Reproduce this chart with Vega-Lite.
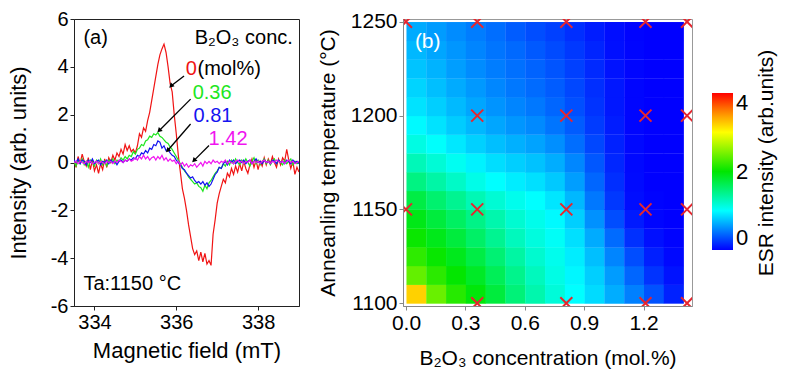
{
"$schema":"https://vega.github.io/schema/vega-lite/v6.json",
"padding":{"left":6,"top":8,"right":2,"bottom":0},
"background":"white",
"config":{"font":"Liberation Sans","axis":{"grid":false,"labelFont":"Liberation Sans","titleFont":"Liberation Sans","labelColor":"#000","titleColor":"#000","titleFontWeight":"normal","tickSize":4,"labelPadding":2}},
"spacing":16,
"resolve":{"scale":{"color":"independent"},"legend":{"color":"independent"}},
"datasets":{
"spec":[
{"s":"0","b":333.5,"v":0.1},{"s":"0","b":333.55,"v":-0.2},{"s":"0","b":333.6,"v":0.25},{"s":"0","b":333.65,"v":-0.05},{"s":"0","b":333.7,"v":0.35},{"s":"0","b":333.75,"v":0.05},{"s":"0","b":333.8,"v":-0.15},{"s":"0","b":333.85,"v":0.2},{"s":"0","b":333.9,"v":-0.3},{"s":"0","b":333.95,"v":0.1},
{"s":"0","b":334.0,"v":-0.35},{"s":"0","b":334.05,"v":-0.1},{"s":"0","b":334.1,"v":-0.45},{"s":"0","b":334.15,"v":-0.05},{"s":"0","b":334.2,"v":-0.3},{"s":"0","b":334.25,"v":0.15},{"s":"0","b":334.3,"v":-0.2},{"s":"0","b":334.35,"v":0.2},{"s":"0","b":334.4,"v":0.0},{"s":"0","b":334.45,"v":0.3},
{"s":"0","b":334.5,"v":0.1},{"s":"0","b":334.55,"v":0.4},{"s":"0","b":334.6,"v":0.25},{"s":"0","b":334.65,"v":0.55},{"s":"0","b":334.7,"v":0.35},{"s":"0","b":334.75,"v":0.75},{"s":"0","b":334.8,"v":0.5},{"s":"0","b":334.85,"v":0.7},{"s":"0","b":334.9,"v":0.45},{"s":"0","b":334.95,"v":0.55},
{"s":"0","b":335.0,"v":0.4},{"s":"0","b":335.05,"v":0.7},{"s":"0","b":335.1,"v":1.2},{"s":"0","b":335.15,"v":1.05},{"s":"0","b":335.2,"v":1.45},{"s":"0","b":335.25,"v":1.3},{"s":"0","b":335.3,"v":1.75},{"s":"0","b":335.35,"v":2.1},{"s":"0","b":335.4,"v":2.6},{"s":"0","b":335.45,"v":3.1},
{"s":"0","b":335.5,"v":3.6},{"s":"0","b":335.55,"v":4.1},{"s":"0","b":335.6,"v":4.5},{"s":"0","b":335.65,"v":4.75},{"s":"0","b":335.7,"v":4.95},{"s":"0","b":335.75,"v":4.6},{"s":"0","b":335.8,"v":4.0},{"s":"0","b":335.85,"v":3.3},{"s":"0","b":335.9,"v":2.95},{"s":"0","b":335.95,"v":2.0},
{"s":"0","b":336.0,"v":1.2},{"s":"0","b":336.05,"v":0.3},{"s":"0","b":336.1,"v":-0.4},{"s":"0","b":336.15,"v":-1.1},{"s":"0","b":336.2,"v":-1.5},{"s":"0","b":336.25,"v":-2.0},{"s":"0","b":336.3,"v":-2.6},{"s":"0","b":336.35,"v":-3.1},{"s":"0","b":336.4,"v":-3.6},{"s":"0","b":336.45,"v":-3.85},
{"s":"0","b":336.5,"v":-3.7},{"s":"0","b":336.55,"v":-4.1},{"s":"0","b":336.6,"v":-3.75},{"s":"0","b":336.65,"v":-4.15},{"s":"0","b":336.7,"v":-3.8},{"s":"0","b":336.75,"v":-4.25},{"s":"0","b":336.8,"v":-4.1},{"s":"0","b":336.85,"v":-4.3},{"s":"0","b":336.9,"v":-3.0},{"s":"0","b":336.95,"v":-2.4},
{"s":"0","b":337.0,"v":-1.7},{"s":"0","b":337.05,"v":-1.3},{"s":"0","b":337.1,"v":-1.0},{"s":"0","b":337.15,"v":-0.7},{"s":"0","b":337.2,"v":-0.85},{"s":"0","b":337.25,"v":-0.45},{"s":"0","b":337.3,"v":-0.6},{"s":"0","b":337.35,"v":-0.25},{"s":"0","b":337.4,"v":-0.5},{"s":"0","b":337.45,"v":-0.15},
{"s":"0","b":337.5,"v":-0.4},{"s":"0","b":337.55,"v":-0.05},{"s":"0","b":337.6,"v":-0.35},{"s":"0","b":337.65,"v":0.05},{"s":"0","b":337.7,"v":-0.25},{"s":"0","b":337.75,"v":-0.45},{"s":"0","b":337.8,"v":-0.1},{"s":"0","b":337.85,"v":0.15},{"s":"0","b":337.9,"v":-0.2},{"s":"0","b":337.95,"v":0.1},
{"s":"0","b":338.0,"v":-0.3},{"s":"0","b":338.05,"v":0.05},{"s":"0","b":338.1,"v":-0.15},{"s":"0","b":338.15,"v":0.2},{"s":"0","b":338.2,"v":-0.1},{"s":"0","b":338.25,"v":0.15},{"s":"0","b":338.3,"v":-0.05},{"s":"0","b":338.35,"v":0.25},{"s":"0","b":338.4,"v":0.0},{"s":"0","b":338.45,"v":-0.2},
{"s":"0","b":338.5,"v":0.15},{"s":"0","b":338.55,"v":-0.1},{"s":"0","b":338.6,"v":0.2},{"s":"0","b":338.65,"v":0.05},{"s":"0","b":338.7,"v":0.55},{"s":"0","b":338.75,"v":0.1},{"s":"0","b":338.8,"v":-0.25},{"s":"0","b":338.85,"v":0.05},{"s":"0","b":338.9,"v":-0.5},{"s":"0","b":338.95,"v":-0.2},{"s":"0","b":339.0,"v":-0.4},
{"s":"0.36","b":333.5,"v":0.05},{"s":"0.36","b":333.55,"v":-0.15},{"s":"0.36","b":333.6,"v":0.1},{"s":"0.36","b":333.65,"v":-0.05},{"s":"0.36","b":333.7,"v":0.15},{"s":"0.36","b":333.75,"v":-0.1},{"s":"0.36","b":333.8,"v":0.05},{"s":"0.36","b":333.85,"v":-0.2},{"s":"0.36","b":333.9,"v":0.1},{"s":"0.36","b":333.95,"v":0.0},
{"s":"0.36","b":334.0,"v":-0.15},{"s":"0.36","b":334.05,"v":0.1},{"s":"0.36","b":334.1,"v":-0.05},{"s":"0.36","b":334.15,"v":0.15},{"s":"0.36","b":334.2,"v":-0.1},{"s":"0.36","b":334.25,"v":0.05},{"s":"0.36","b":334.3,"v":-0.15},{"s":"0.36","b":334.35,"v":0.1},{"s":"0.36","b":334.4,"v":0.0},{"s":"0.36","b":334.45,"v":0.15},
{"s":"0.36","b":334.5,"v":-0.05},{"s":"0.36","b":334.55,"v":0.1},{"s":"0.36","b":334.6,"v":0.05},{"s":"0.36","b":334.65,"v":0.2},{"s":"0.36","b":334.7,"v":0.1},{"s":"0.36","b":334.75,"v":0.25},{"s":"0.36","b":334.8,"v":0.15},{"s":"0.36","b":334.85,"v":0.3},{"s":"0.36","b":334.9,"v":0.25},{"s":"0.36","b":334.95,"v":0.45},
{"s":"0.36","b":335.0,"v":0.35},{"s":"0.36","b":335.05,"v":0.55},{"s":"0.36","b":335.1,"v":0.6},{"s":"0.36","b":335.15,"v":0.75},{"s":"0.36","b":335.2,"v":0.7},{"s":"0.36","b":335.25,"v":0.9},{"s":"0.36","b":335.3,"v":0.95},{"s":"0.36","b":335.35,"v":1.1},{"s":"0.36","b":335.4,"v":1.05},{"s":"0.36","b":335.45,"v":1.2},
{"s":"0.36","b":335.5,"v":1.15},{"s":"0.36","b":335.55,"v":1.25},{"s":"0.36","b":335.6,"v":1.1},{"s":"0.36","b":335.65,"v":1.05},{"s":"0.36","b":335.7,"v":0.95},{"s":"0.36","b":335.75,"v":0.85},{"s":"0.36","b":335.8,"v":0.8},{"s":"0.36","b":335.85,"v":0.65},{"s":"0.36","b":335.9,"v":0.55},{"s":"0.36","b":335.95,"v":0.4},
{"s":"0.36","b":336.0,"v":0.25},{"s":"0.36","b":336.05,"v":0.1},{"s":"0.36","b":336.1,"v":-0.05},{"s":"0.36","b":336.15,"v":-0.2},{"s":"0.36","b":336.2,"v":-0.35},{"s":"0.36","b":336.25,"v":-0.45},{"s":"0.36","b":336.3,"v":-0.6},{"s":"0.36","b":336.35,"v":-0.7},{"s":"0.36","b":336.4,"v":-0.8},{"s":"0.36","b":336.45,"v":-0.9},
{"s":"0.36","b":336.5,"v":-0.85},{"s":"0.36","b":336.55,"v":-1.0},{"s":"0.36","b":336.6,"v":-1.05},{"s":"0.36","b":336.65,"v":-1.2},{"s":"0.36","b":336.7,"v":-0.95},{"s":"0.36","b":336.75,"v":-1.1},{"s":"0.36","b":336.8,"v":-0.85},{"s":"0.36","b":336.85,"v":-0.75},{"s":"0.36","b":336.9,"v":-0.6},{"s":"0.36","b":336.95,"v":-0.45},
{"s":"0.36","b":337.0,"v":-0.35},{"s":"0.36","b":337.05,"v":-0.2},{"s":"0.36","b":337.1,"v":-0.25},{"s":"0.36","b":337.15,"v":-0.05},{"s":"0.36","b":337.2,"v":-0.15},{"s":"0.36","b":337.25,"v":0.05},{"s":"0.36","b":337.3,"v":-0.1},{"s":"0.36","b":337.35,"v":0.1},{"s":"0.36","b":337.4,"v":-0.05},{"s":"0.36","b":337.45,"v":0.15},
{"s":"0.36","b":337.5,"v":0.0},{"s":"0.36","b":337.55,"v":-0.1},{"s":"0.36","b":337.6,"v":0.1},{"s":"0.36","b":337.65,"v":-0.05},{"s":"0.36","b":337.7,"v":0.15},{"s":"0.36","b":337.75,"v":0.0},{"s":"0.36","b":337.8,"v":-0.15},{"s":"0.36","b":337.85,"v":0.05},{"s":"0.36","b":337.9,"v":0.2},{"s":"0.36","b":337.95,"v":-0.05},
{"s":"0.36","b":338.0,"v":0.1},{"s":"0.36","b":338.05,"v":-0.1},{"s":"0.36","b":338.1,"v":0.05},{"s":"0.36","b":338.15,"v":0.15},{"s":"0.36","b":338.2,"v":-0.05},{"s":"0.36","b":338.25,"v":0.1},{"s":"0.36","b":338.3,"v":-0.1},{"s":"0.36","b":338.35,"v":0.05},{"s":"0.36","b":338.4,"v":0.15},{"s":"0.36","b":338.45,"v":-0.05},
{"s":"0.36","b":338.5,"v":0.1},{"s":"0.36","b":338.55,"v":0.0},{"s":"0.36","b":338.6,"v":-0.1},{"s":"0.36","b":338.65,"v":0.1},{"s":"0.36","b":338.7,"v":-0.05},{"s":"0.36","b":338.75,"v":0.05},{"s":"0.36","b":338.8,"v":0.15},{"s":"0.36","b":338.85,"v":-0.1},{"s":"0.36","b":338.9,"v":0.05},{"s":"0.36","b":338.95,"v":-0.05},{"s":"0.36","b":339.0,"v":0.0},
{"s":"0.81","b":333.5,"v":0.1},{"s":"0.81","b":333.55,"v":0.0},{"s":"0.81","b":333.6,"v":0.15},{"s":"0.81","b":333.65,"v":-0.05},{"s":"0.81","b":333.7,"v":0.1},{"s":"0.81","b":333.75,"v":0.05},{"s":"0.81","b":333.8,"v":-0.1},{"s":"0.81","b":333.85,"v":0.1},{"s":"0.81","b":333.9,"v":0.0},{"s":"0.81","b":333.95,"v":0.15},
{"s":"0.81","b":334.0,"v":-0.05},{"s":"0.81","b":334.05,"v":0.05},{"s":"0.81","b":334.1,"v":0.1},{"s":"0.81","b":334.15,"v":-0.1},{"s":"0.81","b":334.2,"v":0.05},{"s":"0.81","b":334.25,"v":0.0},{"s":"0.81","b":334.3,"v":0.1},{"s":"0.81","b":334.35,"v":-0.05},{"s":"0.81","b":334.4,"v":0.1},{"s":"0.81","b":334.45,"v":0.0},
{"s":"0.81","b":334.5,"v":0.05},{"s":"0.81","b":334.55,"v":-0.1},{"s":"0.81","b":334.6,"v":0.05},{"s":"0.81","b":334.65,"v":0.1},{"s":"0.81","b":334.7,"v":0.0},{"s":"0.81","b":334.75,"v":0.1},{"s":"0.81","b":334.8,"v":0.05},{"s":"0.81","b":334.85,"v":0.15},{"s":"0.81","b":334.9,"v":0.1},{"s":"0.81","b":334.95,"v":0.2},
{"s":"0.81","b":335.0,"v":0.15},{"s":"0.81","b":335.05,"v":0.3},{"s":"0.81","b":335.1,"v":0.25},{"s":"0.81","b":335.15,"v":0.4},{"s":"0.81","b":335.2,"v":0.35},{"s":"0.81","b":335.25,"v":0.5},{"s":"0.81","b":335.3,"v":0.4},{"s":"0.81","b":335.35,"v":0.6},{"s":"0.81","b":335.4,"v":0.55},{"s":"0.81","b":335.45,"v":0.75},
{"s":"0.81","b":335.5,"v":0.7},{"s":"0.81","b":335.55,"v":0.9},{"s":"0.81","b":335.6,"v":0.85},{"s":"0.81","b":335.65,"v":0.6},{"s":"0.81","b":335.7,"v":0.7},{"s":"0.81","b":335.75,"v":0.5},{"s":"0.81","b":335.8,"v":0.55},{"s":"0.81","b":335.85,"v":0.4},{"s":"0.81","b":335.9,"v":0.3},{"s":"0.81","b":335.95,"v":0.25},
{"s":"0.81","b":336.0,"v":0.1},{"s":"0.81","b":336.05,"v":0.0},{"s":"0.81","b":336.1,"v":-0.1},{"s":"0.81","b":336.15,"v":-0.25},{"s":"0.81","b":336.2,"v":-0.3},{"s":"0.81","b":336.25,"v":-0.45},{"s":"0.81","b":336.3,"v":-0.55},{"s":"0.81","b":336.35,"v":-0.65},{"s":"0.81","b":336.4,"v":-0.6},{"s":"0.81","b":336.45,"v":-0.75},
{"s":"0.81","b":336.5,"v":-0.85},{"s":"0.81","b":336.55,"v":-0.8},{"s":"0.81","b":336.6,"v":-0.9},{"s":"0.81","b":336.65,"v":-0.8},{"s":"0.81","b":336.7,"v":-0.95},{"s":"0.81","b":336.75,"v":-0.85},{"s":"0.81","b":336.8,"v":-1.0},{"s":"0.81","b":336.85,"v":-0.9},{"s":"0.81","b":336.9,"v":-0.7},{"s":"0.81","b":336.95,"v":-0.5},
{"s":"0.81","b":337.0,"v":-0.4},{"s":"0.81","b":337.05,"v":-0.2},{"s":"0.81","b":337.1,"v":-0.25},{"s":"0.81","b":337.15,"v":-0.05},{"s":"0.81","b":337.2,"v":0.05},{"s":"0.81","b":337.25,"v":-0.1},{"s":"0.81","b":337.3,"v":0.1},{"s":"0.81","b":337.35,"v":0.0},{"s":"0.81","b":337.4,"v":0.1},{"s":"0.81","b":337.45,"v":-0.05},
{"s":"0.81","b":337.5,"v":0.05},{"s":"0.81","b":337.55,"v":0.1},{"s":"0.81","b":337.6,"v":0.0},{"s":"0.81","b":337.65,"v":0.1},{"s":"0.81","b":337.7,"v":-0.05},{"s":"0.81","b":337.75,"v":0.05},{"s":"0.81","b":337.8,"v":0.1},{"s":"0.81","b":337.85,"v":-0.05},{"s":"0.81","b":337.9,"v":0.05},{"s":"0.81","b":337.95,"v":0.15},
{"s":"0.81","b":338.0,"v":0.0},{"s":"0.81","b":338.05,"v":0.05},{"s":"0.81","b":338.1,"v":-0.05},{"s":"0.81","b":338.15,"v":0.1},{"s":"0.81","b":338.2,"v":0.0},{"s":"0.81","b":338.25,"v":0.05},{"s":"0.81","b":338.3,"v":-0.05},{"s":"0.81","b":338.35,"v":0.1},{"s":"0.81","b":338.4,"v":0.05},{"s":"0.81","b":338.45,"v":-0.05},
{"s":"0.81","b":338.5,"v":0.1},{"s":"0.81","b":338.55,"v":0.0},{"s":"0.81","b":338.6,"v":0.05},{"s":"0.81","b":338.65,"v":-0.05},{"s":"0.81","b":338.7,"v":0.1},{"s":"0.81","b":338.75,"v":0.05},{"s":"0.81","b":338.8,"v":-0.05},{"s":"0.81","b":338.85,"v":0.1},{"s":"0.81","b":338.9,"v":0.0},{"s":"0.81","b":338.95,"v":0.05},{"s":"0.81","b":339.0,"v":-0.05},
{"s":"1.42","b":333.5,"v":0.0},{"s":"1.42","b":333.55,"v":0.05},{"s":"1.42","b":333.6,"v":-0.05},{"s":"1.42","b":333.65,"v":0.05},{"s":"1.42","b":333.7,"v":0.0},{"s":"1.42","b":333.75,"v":-0.05},{"s":"1.42","b":333.8,"v":0.05},{"s":"1.42","b":333.85,"v":0.0},{"s":"1.42","b":333.9,"v":0.05},{"s":"1.42","b":333.95,"v":-0.05},
{"s":"1.42","b":334.0,"v":0.0},{"s":"1.42","b":334.05,"v":0.05},{"s":"1.42","b":334.1,"v":-0.05},{"s":"1.42","b":334.15,"v":0.05},{"s":"1.42","b":334.2,"v":0.0},{"s":"1.42","b":334.25,"v":-0.05},{"s":"1.42","b":334.3,"v":0.05},{"s":"1.42","b":334.35,"v":0.0},{"s":"1.42","b":334.4,"v":0.05},{"s":"1.42","b":334.45,"v":-0.05},
{"s":"1.42","b":334.5,"v":0.05},{"s":"1.42","b":334.55,"v":0.0},{"s":"1.42","b":334.6,"v":0.1},{"s":"1.42","b":334.65,"v":0.05},{"s":"1.42","b":334.7,"v":0.0},{"s":"1.42","b":334.75,"v":0.1},{"s":"1.42","b":334.8,"v":0.05},{"s":"1.42","b":334.85,"v":0.15},{"s":"1.42","b":334.9,"v":0.05},{"s":"1.42","b":334.95,"v":0.1},
{"s":"1.42","b":335.0,"v":0.2},{"s":"1.42","b":335.05,"v":0.1},{"s":"1.42","b":335.1,"v":0.25},{"s":"1.42","b":335.15,"v":0.15},{"s":"1.42","b":335.2,"v":0.3},{"s":"1.42","b":335.25,"v":0.15},{"s":"1.42","b":335.3,"v":0.25},{"s":"1.42","b":335.35,"v":0.1},{"s":"1.42","b":335.4,"v":0.2},{"s":"1.42","b":335.45,"v":0.25},
{"s":"1.42","b":335.5,"v":0.1},{"s":"1.42","b":335.55,"v":0.25},{"s":"1.42","b":335.6,"v":0.15},{"s":"1.42","b":335.65,"v":0.3},{"s":"1.42","b":335.7,"v":0.1},{"s":"1.42","b":335.75,"v":0.2},{"s":"1.42","b":335.8,"v":0.05},{"s":"1.42","b":335.85,"v":0.15},{"s":"1.42","b":335.9,"v":0.05},{"s":"1.42","b":335.95,"v":0.1},
{"s":"1.42","b":336.0,"v":-0.05},{"s":"1.42","b":336.05,"v":0.05},{"s":"1.42","b":336.1,"v":-0.1},{"s":"1.42","b":336.15,"v":0.0},{"s":"1.42","b":336.2,"v":-0.15},{"s":"1.42","b":336.25,"v":-0.05},{"s":"1.42","b":336.3,"v":-0.2},{"s":"1.42","b":336.35,"v":-0.1},{"s":"1.42","b":336.4,"v":-0.15},{"s":"1.42","b":336.45,"v":-0.05},
{"s":"1.42","b":336.5,"v":-0.2},{"s":"1.42","b":336.55,"v":-0.1},{"s":"1.42","b":336.6,"v":0.0},{"s":"1.42","b":336.65,"v":-0.15},{"s":"1.42","b":336.7,"v":0.05},{"s":"1.42","b":336.75,"v":-0.05},{"s":"1.42","b":336.8,"v":0.05},{"s":"1.42","b":336.85,"v":-0.05},{"s":"1.42","b":336.9,"v":0.1},{"s":"1.42","b":336.95,"v":0.0},
{"s":"1.42","b":337.0,"v":0.05},{"s":"1.42","b":337.05,"v":-0.05},{"s":"1.42","b":337.1,"v":0.05},{"s":"1.42","b":337.15,"v":0.0},{"s":"1.42","b":337.2,"v":0.1},{"s":"1.42","b":337.25,"v":-0.05},{"s":"1.42","b":337.3,"v":0.05},{"s":"1.42","b":337.35,"v":0.0},{"s":"1.42","b":337.4,"v":-0.05},{"s":"1.42","b":337.45,"v":0.05},
{"s":"1.42","b":337.5,"v":0.1},{"s":"1.42","b":337.55,"v":0.0},{"s":"1.42","b":337.6,"v":0.05},{"s":"1.42","b":337.65,"v":-0.05},{"s":"1.42","b":337.7,"v":0.05},{"s":"1.42","b":337.75,"v":0.0},{"s":"1.42","b":337.8,"v":0.1},{"s":"1.42","b":337.85,"v":-0.05},{"s":"1.42","b":337.9,"v":0.05},{"s":"1.42","b":337.95,"v":0.0},
{"s":"1.42","b":338.0,"v":0.05},{"s":"1.42","b":338.05,"v":-0.05},{"s":"1.42","b":338.1,"v":0.05},{"s":"1.42","b":338.15,"v":0.1},{"s":"1.42","b":338.2,"v":0.0},{"s":"1.42","b":338.25,"v":0.05},{"s":"1.42","b":338.3,"v":-0.05},{"s":"1.42","b":338.35,"v":0.05},{"s":"1.42","b":338.4,"v":0.0},{"s":"1.42","b":338.45,"v":0.1},
{"s":"1.42","b":338.5,"v":0.05},{"s":"1.42","b":338.55,"v":0.0},{"s":"1.42","b":338.6,"v":0.05},{"s":"1.42","b":338.65,"v":-0.05},{"s":"1.42","b":338.7,"v":0.05},{"s":"1.42","b":338.75,"v":0.1},{"s":"1.42","b":338.8,"v":0.0},{"s":"1.42","b":338.85,"v":0.05},{"s":"1.42","b":338.9,"v":-0.05},{"s":"1.42","b":338.95,"v":0.0},{"s":"1.42","b":339.0,"v":0.05}
],
"arrows":[
{"b":336.19,"v":3.62,"b2":335.87,"v2":3.2},
{"b":336.35,"v":2.65,"b2":335.58,"v2":1.33},
{"b":336.35,"v":1.61,"b2":335.79,"v2":0.5},
{"b":336.8,"v":0.71,"b2":336.43,"v2":0.08}
],
"notes":[
{"b":333.73,"v":5.2,"txt":"(a)","s":"k"},
{"b":336.45,"v":5.2,"txt":"B₂O₃ conc.","s":"k"},
{"b":336.23,"v":3.9,"txt":"0","s":"0"},
{"b":336.52,"v":3.9,"txt":"(mol%)","s":"k"},
{"b":336.4,"v":2.9,"txt":"0.36","s":"0.36"},
{"b":336.42,"v":1.95,"txt":"0.81","s":"0.81"},
{"b":336.79,"v":1.0,"txt":"1.42","s":"1.42"},
{"b":333.73,"v":-5.1,"txt":"Ta:1150 °C","s":"k"}
],
"grid":[
{"c":0,"t":1100,"v":3.2},{"c":0.1,"t":1100,"v":2.41},{"c":0.2,"t":1100,"v":2.15},{"c":0.3,"t":1100,"v":1.96},{"c":0.4,"t":1100,"v":1.76},{"c":0.5,"t":1100,"v":1.53},{"c":0.6,"t":1100,"v":1.32},{"c":0.7,"t":1100,"v":1.15},{"c":0.8,"t":1100,"v":1.0},{"c":0.9,"t":1100,"v":0.86},{"c":1,"t":1100,"v":0.68},{"c":1.1,"t":1100,"v":0.5},{"c":1.2,"t":1100,"v":0.32},{"c":1.3,"t":1100,"v":0.13},
{"c":0,"t":1110,"v":2.39},{"c":0.1,"t":1110,"v":2.17},{"c":0.2,"t":1110,"v":2.01},{"c":0.3,"t":1110,"v":1.85},{"c":0.4,"t":1110,"v":1.66},{"c":0.5,"t":1110,"v":1.45},{"c":0.6,"t":1110,"v":1.26},{"c":0.7,"t":1110,"v":1.1},{"c":0.8,"t":1110,"v":0.97},{"c":0.9,"t":1110,"v":0.81},{"c":1,"t":1110,"v":0.61},{"c":1.1,"t":1110,"v":0.4},{"c":1.2,"t":1110,"v":0.2},{"c":1.3,"t":1110,"v":0.07},
{"c":0,"t":1120,"v":2.18},{"c":0.1,"t":1120,"v":2.03},{"c":0.2,"t":1120,"v":1.89},{"c":0.3,"t":1120,"v":1.73},{"c":0.4,"t":1120,"v":1.55},{"c":0.5,"t":1120,"v":1.36},{"c":0.6,"t":1120,"v":1.19},{"c":0.7,"t":1120,"v":1.07},{"c":0.8,"t":1120,"v":0.93},{"c":0.9,"t":1120,"v":0.75},{"c":1,"t":1120,"v":0.52},{"c":1.1,"t":1120,"v":0.3},{"c":1.2,"t":1120,"v":0.12},{"c":1.3,"t":1120,"v":0.03},
{"c":0,"t":1130,"v":2.04},{"c":0.1,"t":1130,"v":1.9},{"c":0.2,"t":1130,"v":1.76},{"c":0.3,"t":1130,"v":1.6},{"c":0.4,"t":1130,"v":1.43},{"c":0.5,"t":1130,"v":1.26},{"c":0.6,"t":1130,"v":1.13},{"c":0.7,"t":1130,"v":1.03},{"c":0.8,"t":1130,"v":0.88},{"c":0.9,"t":1130,"v":0.67},{"c":1,"t":1130,"v":0.42},{"c":1.1,"t":1130,"v":0.19},{"c":1.2,"t":1130,"v":0.06},{"c":1.3,"t":1130,"v":0.01},
{"c":0,"t":1140,"v":1.91},{"c":0.1,"t":1140,"v":1.76},{"c":0.2,"t":1140,"v":1.62},{"c":0.3,"t":1140,"v":1.47},{"c":0.4,"t":1140,"v":1.32},{"c":0.5,"t":1140,"v":1.18},{"c":0.6,"t":1140,"v":1.08},{"c":0.7,"t":1140,"v":0.98},{"c":0.8,"t":1140,"v":0.81},{"c":0.9,"t":1140,"v":0.57},{"c":1,"t":1140,"v":0.3},{"c":1.1,"t":1140,"v":0.1},{"c":1.2,"t":1140,"v":0.02},{"c":1.3,"t":1140,"v":0},
{"c":0,"t":1150,"v":1.73},{"c":0.1,"t":1150,"v":1.57},{"c":0.2,"t":1150,"v":1.43},{"c":0.3,"t":1150,"v":1.29},{"c":0.4,"t":1150,"v":1.17},{"c":0.5,"t":1150,"v":1.07},{"c":0.6,"t":1150,"v":1.0},{"c":0.7,"t":1150,"v":0.9},{"c":0.8,"t":1150,"v":0.72},{"c":0.9,"t":1150,"v":0.47},{"c":1,"t":1150,"v":0.22},{"c":1.1,"t":1150,"v":0.05},{"c":1.2,"t":1150,"v":0.01},{"c":1.3,"t":1150,"v":0},
{"c":0,"t":1160,"v":1.49},{"c":0.1,"t":1160,"v":1.35},{"c":0.2,"t":1160,"v":1.22},{"c":0.3,"t":1160,"v":1.09},{"c":0.4,"t":1160,"v":1.0},{"c":0.5,"t":1160,"v":0.93},{"c":0.6,"t":1160,"v":0.88},{"c":0.7,"t":1160,"v":0.79},{"c":0.8,"t":1160,"v":0.62},{"c":0.9,"t":1160,"v":0.4},{"c":1,"t":1160,"v":0.18},{"c":1.1,"t":1160,"v":0.04},{"c":1.2,"t":1160,"v":0},{"c":1.3,"t":1160,"v":0},
{"c":0,"t":1170,"v":1.28},{"c":0.1,"t":1170,"v":1.16},{"c":0.2,"t":1170,"v":1.05},{"c":0.3,"t":1170,"v":0.95},{"c":0.4,"t":1170,"v":0.87},{"c":0.5,"t":1170,"v":0.81},{"c":0.6,"t":1170,"v":0.76},{"c":0.7,"t":1170,"v":0.68},{"c":0.8,"t":1170,"v":0.53},{"c":0.9,"t":1170,"v":0.34},{"c":1,"t":1170,"v":0.15},{"c":1.1,"t":1170,"v":0.03},{"c":1.2,"t":1170,"v":0},{"c":1.3,"t":1170,"v":0},
{"c":0,"t":1180,"v":1.11},{"c":0.1,"t":1180,"v":1.01},{"c":0.2,"t":1180,"v":0.91},{"c":0.3,"t":1180,"v":0.82},{"c":0.4,"t":1180,"v":0.75},{"c":0.5,"t":1180,"v":0.69},{"c":0.6,"t":1180,"v":0.64},{"c":0.7,"t":1180,"v":0.56},{"c":0.8,"t":1180,"v":0.43},{"c":0.9,"t":1180,"v":0.28},{"c":1,"t":1180,"v":0.13},{"c":1.1,"t":1180,"v":0.03},{"c":1.2,"t":1180,"v":0},{"c":1.3,"t":1180,"v":0},
{"c":0,"t":1190,"v":0.98},{"c":0.1,"t":1190,"v":0.89},{"c":0.2,"t":1190,"v":0.8},{"c":0.3,"t":1190,"v":0.72},{"c":0.4,"t":1190,"v":0.65},{"c":0.5,"t":1190,"v":0.59},{"c":0.6,"t":1190,"v":0.54},{"c":0.7,"t":1190,"v":0.46},{"c":0.8,"t":1190,"v":0.36},{"c":0.9,"t":1190,"v":0.23},{"c":1,"t":1190,"v":0.11},{"c":1.1,"t":1190,"v":0.02},{"c":1.2,"t":1190,"v":0},{"c":1.3,"t":1190,"v":0},
{"c":0,"t":1200,"v":0.89},{"c":0.1,"t":1200,"v":0.81},{"c":0.2,"t":1200,"v":0.73},{"c":0.3,"t":1200,"v":0.65},{"c":0.4,"t":1200,"v":0.58},{"c":0.5,"t":1200,"v":0.52},{"c":0.6,"t":1200,"v":0.47},{"c":0.7,"t":1200,"v":0.4},{"c":0.8,"t":1200,"v":0.31},{"c":0.9,"t":1200,"v":0.2},{"c":1,"t":1200,"v":0.09},{"c":1.1,"t":1200,"v":0.02},{"c":1.2,"t":1200,"v":0},{"c":1.3,"t":1200,"v":0},
{"c":0,"t":1210,"v":0.83},{"c":0.1,"t":1210,"v":0.75},{"c":0.2,"t":1210,"v":0.67},{"c":0.3,"t":1210,"v":0.6},{"c":0.4,"t":1210,"v":0.53},{"c":0.5,"t":1210,"v":0.47},{"c":0.6,"t":1210,"v":0.42},{"c":0.7,"t":1210,"v":0.36},{"c":0.8,"t":1210,"v":0.28},{"c":0.9,"t":1210,"v":0.18},{"c":1,"t":1210,"v":0.09},{"c":1.1,"t":1210,"v":0.02},{"c":1.2,"t":1210,"v":0},{"c":1.3,"t":1210,"v":0},
{"c":0,"t":1220,"v":0.77},{"c":0.1,"t":1220,"v":0.7},{"c":0.2,"t":1220,"v":0.62},{"c":0.3,"t":1220,"v":0.55},{"c":0.4,"t":1220,"v":0.49},{"c":0.5,"t":1220,"v":0.44},{"c":0.6,"t":1220,"v":0.39},{"c":0.7,"t":1220,"v":0.33},{"c":0.8,"t":1220,"v":0.25},{"c":0.9,"t":1220,"v":0.16},{"c":1,"t":1220,"v":0.07},{"c":1.1,"t":1220,"v":0.02},{"c":1.2,"t":1220,"v":0},{"c":1.3,"t":1220,"v":0},
{"c":0,"t":1230,"v":0.72},{"c":0.1,"t":1230,"v":0.65},{"c":0.2,"t":1230,"v":0.59},{"c":0.3,"t":1230,"v":0.52},{"c":0.4,"t":1230,"v":0.46},{"c":0.5,"t":1230,"v":0.41},{"c":0.6,"t":1230,"v":0.35},{"c":0.7,"t":1230,"v":0.29},{"c":0.8,"t":1230,"v":0.22},{"c":0.9,"t":1230,"v":0.14},{"c":1,"t":1230,"v":0.06},{"c":1.1,"t":1230,"v":0.02},{"c":1.2,"t":1230,"v":0},{"c":1.3,"t":1230,"v":0},
{"c":0,"t":1240,"v":0.67},{"c":0.1,"t":1240,"v":0.61},{"c":0.2,"t":1240,"v":0.55},{"c":0.3,"t":1240,"v":0.49},{"c":0.4,"t":1240,"v":0.43},{"c":0.5,"t":1240,"v":0.36},{"c":0.6,"t":1240,"v":0.3},{"c":0.7,"t":1240,"v":0.25},{"c":0.8,"t":1240,"v":0.18},{"c":0.9,"t":1240,"v":0.11},{"c":1,"t":1240,"v":0.05},{"c":1.1,"t":1240,"v":0.01},{"c":1.2,"t":1240,"v":0},{"c":1.3,"t":1240,"v":0}
],
"pts":[
{"c":0,"t":1250},{"c":0.36,"t":1250},{"c":0.81,"t":1250},{"c":1.21,"t":1250},{"c":1.42,"t":1250},
{"c":0.36,"t":1200},{"c":0.81,"t":1200},{"c":1.21,"t":1200},{"c":1.42,"t":1200},
{"c":0,"t":1150},{"c":0.36,"t":1150},{"c":0.81,"t":1150},{"c":1.21,"t":1150},{"c":1.42,"t":1150},
{"c":0.36,"t":1100},{"c":0.81,"t":1100},{"c":1.21,"t":1100},{"c":1.42,"t":1100}
],
"lab":[{"c":0.045,"t":1239,"txt":"(b)"}]
},
"hconcat":[
{
"width":225,"height":287,
"view":{"stroke":"#222","strokeWidth":1},
"layer":[
{"data":{"name":"spec"},"mark":{"type":"line","strokeWidth":1.2,"clip":true},
"encoding":{
"x":{"field":"b","type":"quantitative","title":"Magnetic field (mT)","scale":{"domain":[333.5,339],"nice":false,"zero":false},"axis":{"values":[334,336,338],"labelFontSize":20,"titleFontSize":22,"titlePadding":8,"labelExpr":"'' + datum.value","domainColor":"#222","tickColor":"#222"}},
"y":{"field":"v","type":"quantitative","title":"Intensity (arb. units)","scale":{"domain":[-6,6],"nice":false},"axis":{"values":[-6,-4,-2,0,2,4,6],"labelFontSize":20,"titleFontSize":22,"titlePadding":20,"labelExpr":"'' + datum.value","domainColor":"#222","tickColor":"#222"}},
"color":{"field":"s","type":"nominal","scale":{"domain":["0","0.36","0.81","1.42","k"],"range":["#f01414","#1ee61e","#1414f0","#f014f0","#000000"]},"legend":null}
}},
{"data":{"name":"arrows"},"mark":{"type":"rule","color":"#000","strokeWidth":1.3},
"encoding":{"x":{"field":"b","type":"quantitative","title":"Magnetic field (mT)"},"y":{"field":"v","type":"quantitative","title":"Intensity (arb. units)"},"x2":{"field":"b2"},"y2":{"field":"v2"}}},
{"data":{"name":"arrows"},"mark":{"type":"point","shape":"triangle-up","filled":true,"color":"#000","size":30,"angle":225,"opacity":1},
"encoding":{"x":{"field":"b2","type":"quantitative","title":"Magnetic field (mT)"},"y":{"field":"v2","type":"quantitative","title":"Intensity (arb. units)"}}},
{"data":{"name":"notes"},"mark":{"type":"text","align":"left","baseline":"middle","fontSize":20},
"encoding":{"x":{"field":"b","type":"quantitative","title":"Magnetic field (mT)"},"y":{"field":"v","type":"quantitative","title":"Intensity (arb. units)"},"text":{"field":"txt"},"color":{"field":"s","type":"nominal"}}}
]
},
{
"width":289,"height":287,
"view":{"stroke":"#999","strokeWidth":1},
"resolve":{"axis":{"y":"independent"}},
"layer":[
{"data":{"name":"grid"},"mark":{"type":"rect","clip":true,"binSpacing":0},
"encoding":{
"x":{"field":"c","type":"quantitative","bin":{"binned":true,"step":0.1015},"title":"B₂O₃ concentration (mol.%)","scale":{"domain":[-0.015,1.445],"nice":false,"zero":false},"axis":{"values":[0,0.3,0.6,0.9,1.2],"format":".1f","labelFontSize":21,"titleFontSize":21,"titlePadding":14,"domainColor":"#888","tickColor":"#888"}},
"y":{"field":"t","type":"quantitative","bin":{"binned":true,"step":10.15},"title":"Anneanling temperature (°C)","scale":{"domain":[1098.5,1251.5],"nice":false,"zero":false},"axis":{"values":[1100,1150,1200,1250],"format":"d","labelFontSize":21,"titleFontSize":21,"titlePadding":12,"domainColor":"#888","tickColor":"#888"}},
"color":{"field":"v","type":"quantitative","scale":{"domain":[0,1,2,3,3.5,4],"range":["#0000ff","#00ffff","#00e600","#ffff00","#ff8c00","#ff0000"],"interpolate":"rgb"},
"legend":{"orient":"none","legendX":309,"legendY":74,"direction":"vertical","gradientLength":157,"gradientThickness":21,"values":[0,2,4],"title":null,"labelFontSize":22,"labelColor":"#000","labelOffset":3,"labelBaseline":"middle","gradientStrokeWidth":0}}
}},
{"data":{"name":"pts"},"mark":{"type":"point","shape":"M-1,-1L1,1M-1,1L1,-1","filled":false,"color":"#e6262e","strokeWidth":2,"size":144,"opacity":1,"clip":true},
"encoding":{"x":{"field":"c","type":"quantitative","title":"B₂O₃ concentration (mol.%)"},"y":{"field":"t","type":"quantitative","title":"ESR intensity (arb.units)","axis":{"orient":"right","labels":false,"ticks":false,"domain":false,"titleAngle":270,"titleFontSize":21,"titlePadding":74,"titleBaseline":"middle"}}}},
{"data":{"name":"lab"},"mark":{"type":"text","align":"left","baseline":"middle","fontSize":21,"color":"white"},
"encoding":{"x":{"field":"c","type":"quantitative"},"y":{"field":"t","type":"quantitative","axis":null},"text":{"field":"txt"}}}
]
}
]
}
